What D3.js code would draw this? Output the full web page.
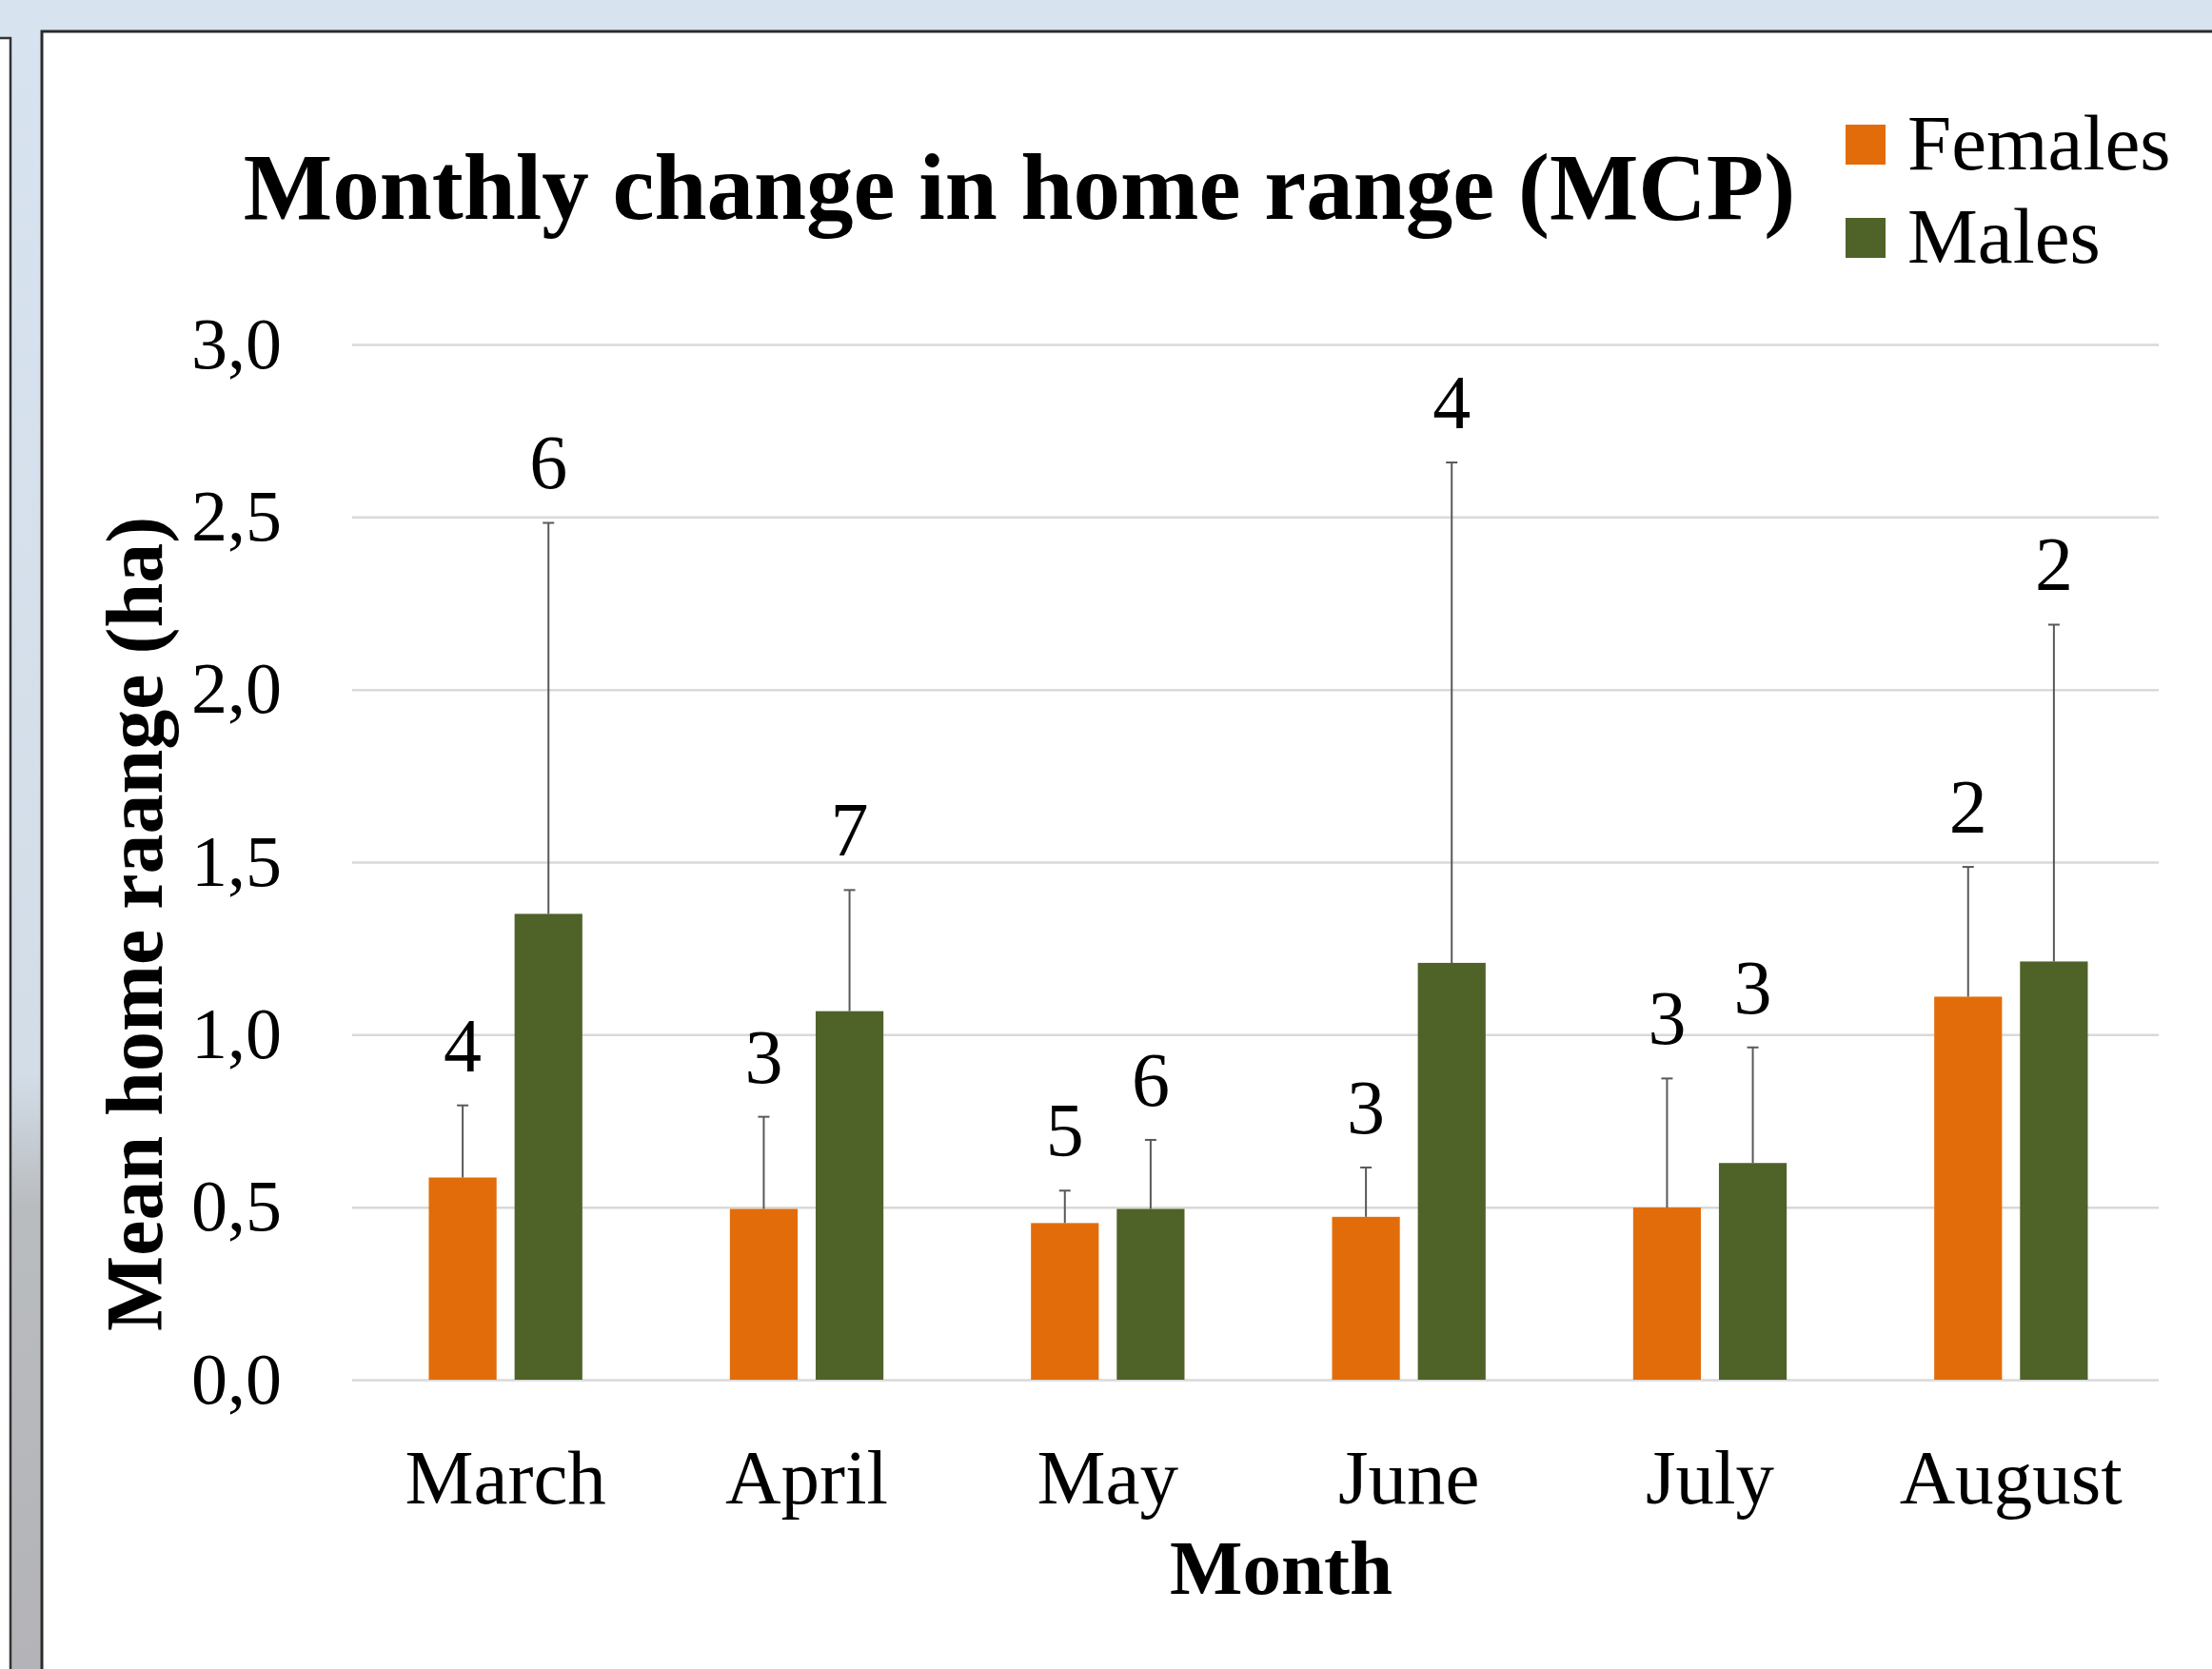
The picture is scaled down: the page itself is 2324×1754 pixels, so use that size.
<!DOCTYPE html>
<html>
<head>
<meta charset="utf-8">
<script src="https://cdn.jsdelivr.net/npm/d3@7"></script>
<style>
    body { margin: 0; background: #d7e3ef; }
    svg { display: block; }
    text { font-family: "Liberation Serif", "DejaVu Serif", serif; fill: #000; }
</style>
</head>
<body>
<svg id="vis"></svg>
<script>
// data
var months = ["March", "April", "May", "June", "July", "August"];
var series = ["Females", "Males"];
var femaleMean = [0.586, 0.495, 0.454, 0.472, 0.499, 1.110];
var femaleErr  = [0.209, 0.267, 0.094, 0.143, 0.374, 0.376];
var femaleN    = [4, 3, 5, 3, 3, 2];
var maleMean   = [1.350, 1.068, 0.495, 1.208, 0.628, 1.212];
var maleErr    = [1.133, 0.351, 0.200, 1.450, 0.335, 0.976];
var maleN      = [6, 7, 6, 4, 3, 2];
var yTicks = [0, 0.5, 1, 1.5, 2, 2.5, 3];

var colors = { Females: "#e36c0a", Males: "#4f6228" };

var W = 2324, H = 1754;
var plot = { left: 370, right: 2268, top: 362, bottom: 1450 };

var svg = d3.select("#vis")
    .attr("width", W)
    .attr("height", H);

// background: window frame look
var defs = svg.append("defs");
var grad = defs.append("linearGradient")
    .attr("id", "strip")
    .attr("x1", 0).attr("y1", 0).attr("x2", 0).attr("y2", 1);
grad.append("stop").attr("offset", "0%").attr("stop-color", "#d7e3ef");
grad.append("stop").attr("offset", "62%").attr("stop-color", "#d3dde8");
grad.append("stop").attr("offset", "70%").attr("stop-color", "#b9bcbf");
grad.append("stop").attr("offset", "100%").attr("stop-color", "#b3b3b7");

svg.append("rect")
    .attr("width", W).attr("height", H)
    .attr("fill", "#d7e3ef");
svg.append("rect")
    .attr("x", 0).attr("y", 40).attr("width", 44).attr("height", H)
    .attr("fill", "url(#strip)");
// left neighbour panel
svg.append("rect")
    .attr("x", -10).attr("y", 40).attr("width", 21).attr("height", H)
    .attr("fill", "#fff")
    .attr("stroke", "#333").attr("stroke-width", 2.5);
// main panel
svg.append("rect")
    .attr("x", 44).attr("y", 33).attr("width", W).attr("height", H)
    .attr("fill", "#fff")
    .attr("stroke", "#2b2b2b").attr("stroke-width", 3);

// scales
var x0 = d3.scaleBand()
    .domain(months)
    .range([plot.left + 3, plot.right + 3]);

var x1 = d3.scaleBand()
    .domain(series)
    .range([0, x0.bandwidth()])
    .paddingInner(0.21)
    .paddingOuter(0.86);

var y = d3.scaleLinear()
    .domain([0, 3])
    .range([plot.bottom, plot.top]);

var locale = d3.formatLocale({ decimal: ",", thousands: ".", grouping: [3], currency: ["", ""] });
var fmt = locale.format(".1f");

// y axis + gridlines
var yAxis = d3.axisLeft(y)
    .tickValues(yTicks)
    .tickFormat(fmt)
    .tickSize(-(plot.right - plot.left))
    .tickPadding(74);

var yG = svg.append("g")
    .attr("transform", "translate(" + plot.left + ",0)")
    .call(yAxis);
yG.select(".domain").remove();
yG.selectAll(".tick line")
    .attr("stroke", "#d9d9d9")
    .attr("stroke-width", 2.5);
yG.selectAll(".tick text")
    .attr("font-size", 76)
    .attr("font-family", "Liberation Serif")
    .attr("fill", "#000");

// x axis
var xAxis = d3.axisBottom(x0)
    .tickSize(0)
    .tickPadding(72);

var xG = svg.append("g")
    .attr("transform", "translate(0," + plot.bottom + ")")
    .call(xAxis);
xG.select(".domain").remove();
xG.selectAll(".tick text")
    .attr("font-size", 81)
    .attr("font-family", "Liberation Serif")
    .attr("fill", "#000");

// rows of bars
var rows = months.map(function(m, i) {
    return [
        { month: m, key: "Females", mean: femaleMean[i], err: femaleErr[i], n: femaleN[i] },
        { month: m, key: "Males", mean: maleMean[i], err: maleErr[i], n: maleN[i] }
    ];
});

var groups = svg.append("g")
    .selectAll("g")
    .data(rows)
    .enter()
    .append("g")
    .attr("transform", function(d) { return "translate(" + x0(d[0].month) + ",0)"; });

var items = groups.selectAll("g")
    .data(function(d) { return d; })
    .enter()
    .append("g");

items.append("rect")
    .attr("x", function(d) { return x1(d.key); })
    .attr("y", function(d) { return y(d.mean); })
    .attr("width", x1.bandwidth())
    .attr("height", function(d) { return y(0) - y(d.mean); })
    .attr("fill", function(d) { return colors[d.key]; });

// error bars (upper only)
var cx = function(d) { return x1(d.key) + x1.bandwidth() / 2; };
items.append("line")
    .attr("x1", cx).attr("x2", cx)
    .attr("y1", function(d) { return y(d.mean); })
    .attr("y2", function(d) { return y(d.mean + d.err); })
    .attr("stroke", "#595959")
    .attr("stroke-width", 2);
items.append("line")
    .attr("x1", function(d) { return cx(d) - 6; })
    .attr("x2", function(d) { return cx(d) + 6; })
    .attr("y1", function(d) { return y(d.mean + d.err); })
    .attr("y2", function(d) { return y(d.mean + d.err); })
    .attr("stroke", "#595959")
    .attr("stroke-width", 2);

// sample size labels
items.append("text")
    .attr("x", cx)
    .attr("y", function(d) { return y(d.mean + d.err) - 36; })
    .attr("text-anchor", "middle")
    .attr("font-size", 80)
    .text(function(d) { return d.n; });

// title
svg.append("text")
    .attr("x", 1071)
    .attr("y", 230)
    .attr("text-anchor", "middle")
    .attr("font-size", 99)
    .attr("font-weight", "bold")
    .text("Monthly change in home range (MCP)");

// legend
var legend = svg.append("g")
    .selectAll("g")
    .data(series)
    .enter()
    .append("g")
    .attr("transform", function(d, i) { return "translate(1939," + (131 + i * 98) + ")"; });
legend.append("rect")
    .attr("width", 42).attr("height", 42)
    .attr("fill", function(d) { return colors[d]; });
legend.append("text")
    .attr("x", 65)
    .attr("y", 47)
    .attr("font-size", 83)
    .text(function(d) { return d; });

// axis titles
svg.append("text")
    .attr("transform", "translate(170,971) rotate(-90)")
    .attr("text-anchor", "middle")
    .attr("font-size", 84)
    .attr("font-weight", "bold")
    .text("Mean home raange (ha)");

svg.append("text")
    .attr("x", 1346)
    .attr("y", 1675)
    .attr("text-anchor", "middle")
    .attr("font-size", 81)
    .attr("font-weight", "bold")
    .text("Month");
</script>
</body>
</html>
